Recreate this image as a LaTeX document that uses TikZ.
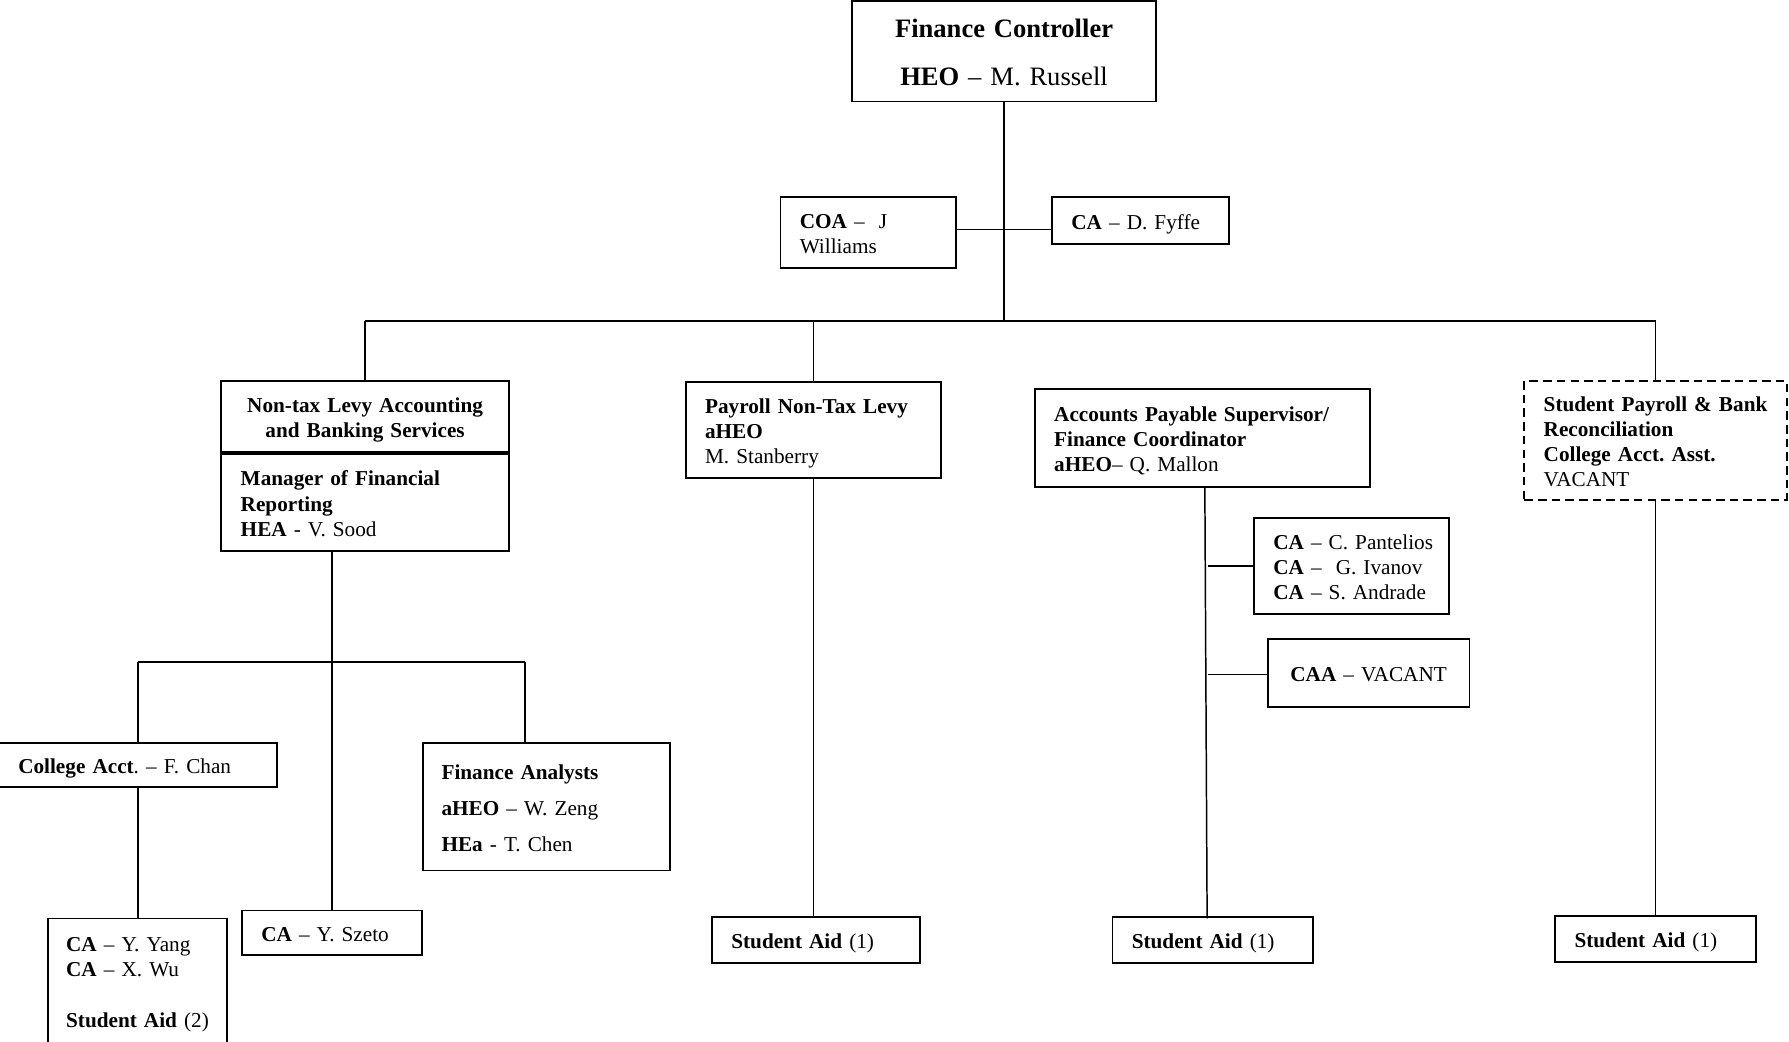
\documentclass[tikz,border=0pt]{standalone}
\usepackage{fontspec}
\setmainfont{Liberation Serif}
\usetikzlibrary{calc}
\newcommand\bodyfnt{\fontsize{18.6}{22}\selectfont\hyphenpenalty=10000\exhyphenpenalty=10000\relax}
\newcommand\bigfnt{\fontsize{23.3}{27}\selectfont\hyphenpenalty=10000\exhyphenpenalty=10000\relax}
\tikzset{
  orgbox/.style={draw, line width=1.6pt, anchor=north west, outer sep=0pt,
    inner xsep=17pt, inner ysep=0pt, align=left, font=\bodyfnt,
    execute at begin node={\rule{0pt}{19pt}},
    execute at end node={\rule[-4.2pt]{0pt}{0pt}}},
  topbox/.style={execute at begin node={\rule{0pt}{23pt}},
    execute at end node={\rule[-5pt]{0pt}{0pt}}},
  link/.style={line width=1.3pt},
  buslink/.style={line width=1.7pt},
  vacantbox/.style={dash pattern=on 7.5pt off 4.5pt}
}
\begin{document}
\begin{tikzpicture}[x=1pt,y=-1pt]
\useasboundingbox (0,0) rectangle (1568,913);
% top
\node[orgbox, topbox, align=center, font=\bigfnt, text width=232pt, minimum height=88pt] (fc) at (747,1)
  {\textbf{Finance Controller}\\[15pt]\textbf{HEO} – M. Russell};
\node[orgbox, text width=120pt, minimum height=62pt] (coa) at (684,173)
  {\textbf{COA} – \ J\\Williams};
\node[orgbox, text width=121pt, minimum height=41pt] (fyffe) at (922,173)
  {\textbf{CA} – D. Fyffe};
% second level
\node[orgbox, align=center, text width=218pt, minimum height=62pt] (b1a) at (194,334)
  {\textbf{Non-tax~Levy~Accounting}\\\textbf{and Banking Services}};
\node[orgbox, text width=218pt, minimum height=85pt] (b1b) at (194,398)
  {\textbf{Manager of Financial}\\\textbf{Reporting}\\\textbf{HEA} - V. Sood};
\node[orgbox, text width=190pt, minimum height=84pt] (pay) at (601,335)
  {\textbf{Payroll~Non-Tax~Levy}\\\textbf{aHEO}\\M. Stanberry};
\node[orgbox, text width=260pt, minimum height=86pt] (ap) at (907,341)
  {\textbf{Accounts~Payable~Supervisor/}\\\textbf{Finance Coordinator}\\\textbf{aHEO}– Q. Mallon};
\node[orgbox, vacantbox, text width=196pt, minimum height=104pt] (b4) at (1336,334)
  {\textbf{Student~Payroll~\&~Bank}\\\textbf{Reconciliation}\\\textbf{College~Acct.~Asst.}\\VACANT};
% AP staff
\node[orgbox, text width=137pt, minimum height=84pt] (pant) at (1099,454)
  {\textbf{CA}~–~C.~Pantelios\\\textbf{CA}~–~\ G.~Ivanov\\\textbf{CA}~–~S.~Andrade};
\node[orgbox, align=center, text width=143pt, minimum height=60pt] (caa) at (1111,560)
  {\textbf{CAA}~–~VACANT};
% left tree
\node[orgbox, text width=210pt, minimum height=39pt] (chan) at (-1,651)
  {\textbf{College~Acct}.~–~F.~Chan};
\node[orgbox, inner xsep=16pt, text width=184pt, minimum height=112pt] (fa) at (371,651)
  {\textbf{Finance Analysts}\\[9.5pt]\textbf{aHEO} – W. Zeng\\[9.5pt]\textbf{HEa} - T. Chen};
\node[orgbox, inner xsep=16pt, text width=125pt, minimum height=110pt] (yang) at (42,805)
  {\textbf{CA} – Y. Yang\\\textbf{CA} – X. Wu\\[23pt]\textbf{Student~Aid}~(2)};
\node[orgbox, text width=124pt, minimum height=39pt] (szeto) at (212,798)
  {\textbf{CA} – Y. Szeto};
% student aid boxes
\node[orgbox, text width=148pt, minimum height=40pt] (sa1) at (624,804)
  {\textbf{Student Aid} (1)};
\node[orgbox, text width=142pt, minimum height=40pt] (sa2) at (975,804)
  {\textbf{Student Aid} (1)};
\node[orgbox, text width=142pt, minimum height=40pt] (sa3) at (1363,803)
  {\textbf{Student Aid} (1)};
% junction coordinates
\coordinate (jbus) at (880,281);
\coordinate (jcoa) at (880,201);
\coordinate (jleft) at (291,580);
\coordinate (jfa) at (460,580);
\coordinate (aptop) at (1056,427);
\coordinate (apbot) at (1058,805);
% connectors
\draw[link] (fc.south) -- (fc.south |- jbus);
\draw[link] (coa.east |- jcoa) -- (fyffe.west |- jcoa);
\draw[buslink] (b1a.north |- jbus) -- (b4.north |- jbus);
\draw[link] (b1a.north |- jbus) -- (b1a.north);
\draw[link] (pay.north |- jbus) -- (pay.north);
\draw[link] ($(ap.north)+(2,0)$ |- jbus) -- ($(ap.north)+(2,0)$);
\draw[link] (b4.north |- jbus) -- (b4.north);
% left tree
\draw[link] (b1b.south -| jleft) -- (szeto.north);
\draw[buslink] (chan.north |- jleft) -- (jfa);
\draw[link] (chan.north |- jleft) -- (chan.north);
\draw[link] (jfa) -- (jfa |- fa.north);
\draw[link] (chan.south) -- (chan.south |- yang.north);
% payroll
\draw[link] (pay.south) -- (pay.south |- sa1.north);
% AP
\draw[link] (aptop) -- (apbot);
\draw[link] (1059,496) -- (pant.west |- 0,496);
\draw[link] (1059,591) -- (caa.west |- 0,591);
% student payroll
\draw[link] (b4.south) -- (sa3.north);
\end{tikzpicture}
\end{document}
